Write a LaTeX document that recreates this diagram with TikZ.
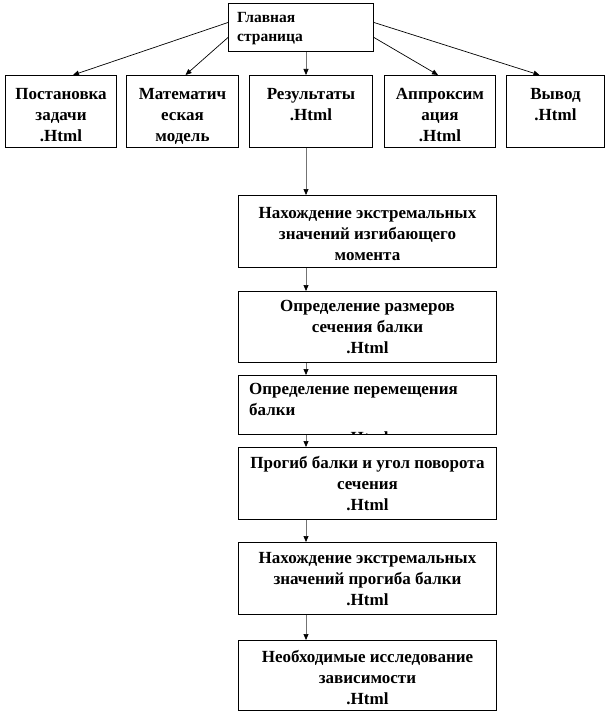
\documentclass[tikz,border=0pt]{standalone}
\usepackage{fontspec}
\setmainfont{Liberation Serif}
\usetikzlibrary{arrows.meta}
\begin{document}
\begin{tikzpicture}[x=1pt,y=-1pt,
  box/.style={draw, line width=1pt, inner sep=0pt, anchor=north west},
  txt/.style={font=\bfseries\fontsize{17}{21}\selectfont, align=center, inner sep=0pt, anchor=north},
  toptxt/.style={font=\bfseries\fontsize{15.5}{19}\selectfont, align=left, inner sep=0pt, anchor=north west},
  arr/.style={-{Triangle[length=6pt,width=5pt,color=black]}, line width=0.7pt},
  varr/.style={arr, draw=black!55}]
\useasboundingbox (0,0) rectangle (611,714);
% boxes
\node[box, minimum width=145pt, minimum height=48pt] (top) at (228,3) {};
\node[box, minimum width=111pt, minimum height=72pt] (b1) at (5,75) {};
\node[box, minimum width=112pt, minimum height=72pt] (b2) at (126,75) {};
\node[box, minimum width=123pt, minimum height=72pt] (b3) at (249,75) {};
\node[box, minimum width=111pt, minimum height=72pt] (b4) at (384,75) {};
\node[box, minimum width=98pt, minimum height=72pt] (b5) at (506,75) {};
\node[box, minimum width=258pt, minimum height=72pt] (c1) at (238,195) {};
\node[box, minimum width=258pt, minimum height=71pt] (c2) at (238,291) {};
\node[box, minimum width=258pt, minimum height=59pt] (c3) at (238,375) {};
\node[box, minimum width=258pt, minimum height=72pt] (c4) at (238,447) {};
\node[box, minimum width=258pt, minimum height=72pt] (c5) at (238,542) {};
\node[box, minimum width=258pt, minimum height=70pt] (c6) at (238,640) {};
% texts
\node[toptxt] (topt) at ([xshift=9pt,yshift=-9pt]top.north west) {Главная\\страница};
\node[txt] (b1t) at ([yshift=-13pt]b1.north) {Постановка\\задачи\\.Html};
\node[txt] (b2t) at ([yshift=-13pt]b2.north) {Математич\\еская\\модель};
\node[txt] (b3t) at ([yshift=-13pt]b3.north) {Результаты\\.Html};
\node[txt] (b4t) at ([yshift=-13pt]b4.north) {Аппроксим\\ация\\.Html};
\node[txt] (b5t) at ([yshift=-13pt]b5.north) {Вывод\\.Html};
\node[txt] (c1t) at ([yshift=-12pt]c1.north) {Нахождение экстремальных\\значений изгибающего\\момента};
\node[txt] (c2t) at ([yshift=-9pt]c2.north) {Определение размеров\\сечения балки\\.Html};
\begin{scope}
\clip ([shift={(0.6pt,-0.6pt)}]c3.north west) rectangle ([shift={(-0.6pt,0.6pt)}]c3.south east);
\node[txt, align=left, anchor=north west] (c3t) at ([xshift=11pt,yshift=-8pt]c3.north west) {Определение перемещения\\балки};
\node[txt] (c3h) at ([yshift=3pt]c3.south) {.Html};
\end{scope}
\node[txt] (c4t) at ([yshift=-9pt]c4.north) {Прогиб балки и угол поворота\\сечения\\.Html};
\node[txt] (c5t) at ([yshift=-10pt]c5.north) {Нахождение экстремальных\\значений прогиба балки\\.Html};
\node[txt] (c6t) at ([yshift=-10pt]c6.north) {Необходимые исследование\\зависимости\\.Html};
% connectors
\draw[arr] ([yshift=5pt]top.west) -- ([xshift=12pt]b1.north);
\draw[arr] ([yshift=-10pt]top.west) -- ([xshift=3pt]b2.north);
\draw[arr] ([yshift=-10pt]top.east) -- ([xshift=-2pt]b4.north);
\draw[arr] ([yshift=5pt]top.east) -- ([xshift=-16pt]b5.north);
\coordinate (ax) at (306,0);
\draw[varr] (top.south -| ax) -- (b3.north -| ax);
\draw[varr] (b3.south -| ax) -- (c1.north -| ax);
\draw[varr] (c1.south -| ax) -- (c2.north -| ax);
\draw[varr] (c2.south -| ax) -- (c3.north -| ax);
\draw[varr] (c3.south -| ax) -- (c4.north -| ax);
\draw[varr] (c4.south -| ax) -- (c5.north -| ax);
\draw[varr] (c5.south -| ax) -- (c6.north -| ax);
\end{tikzpicture}
\end{document}
